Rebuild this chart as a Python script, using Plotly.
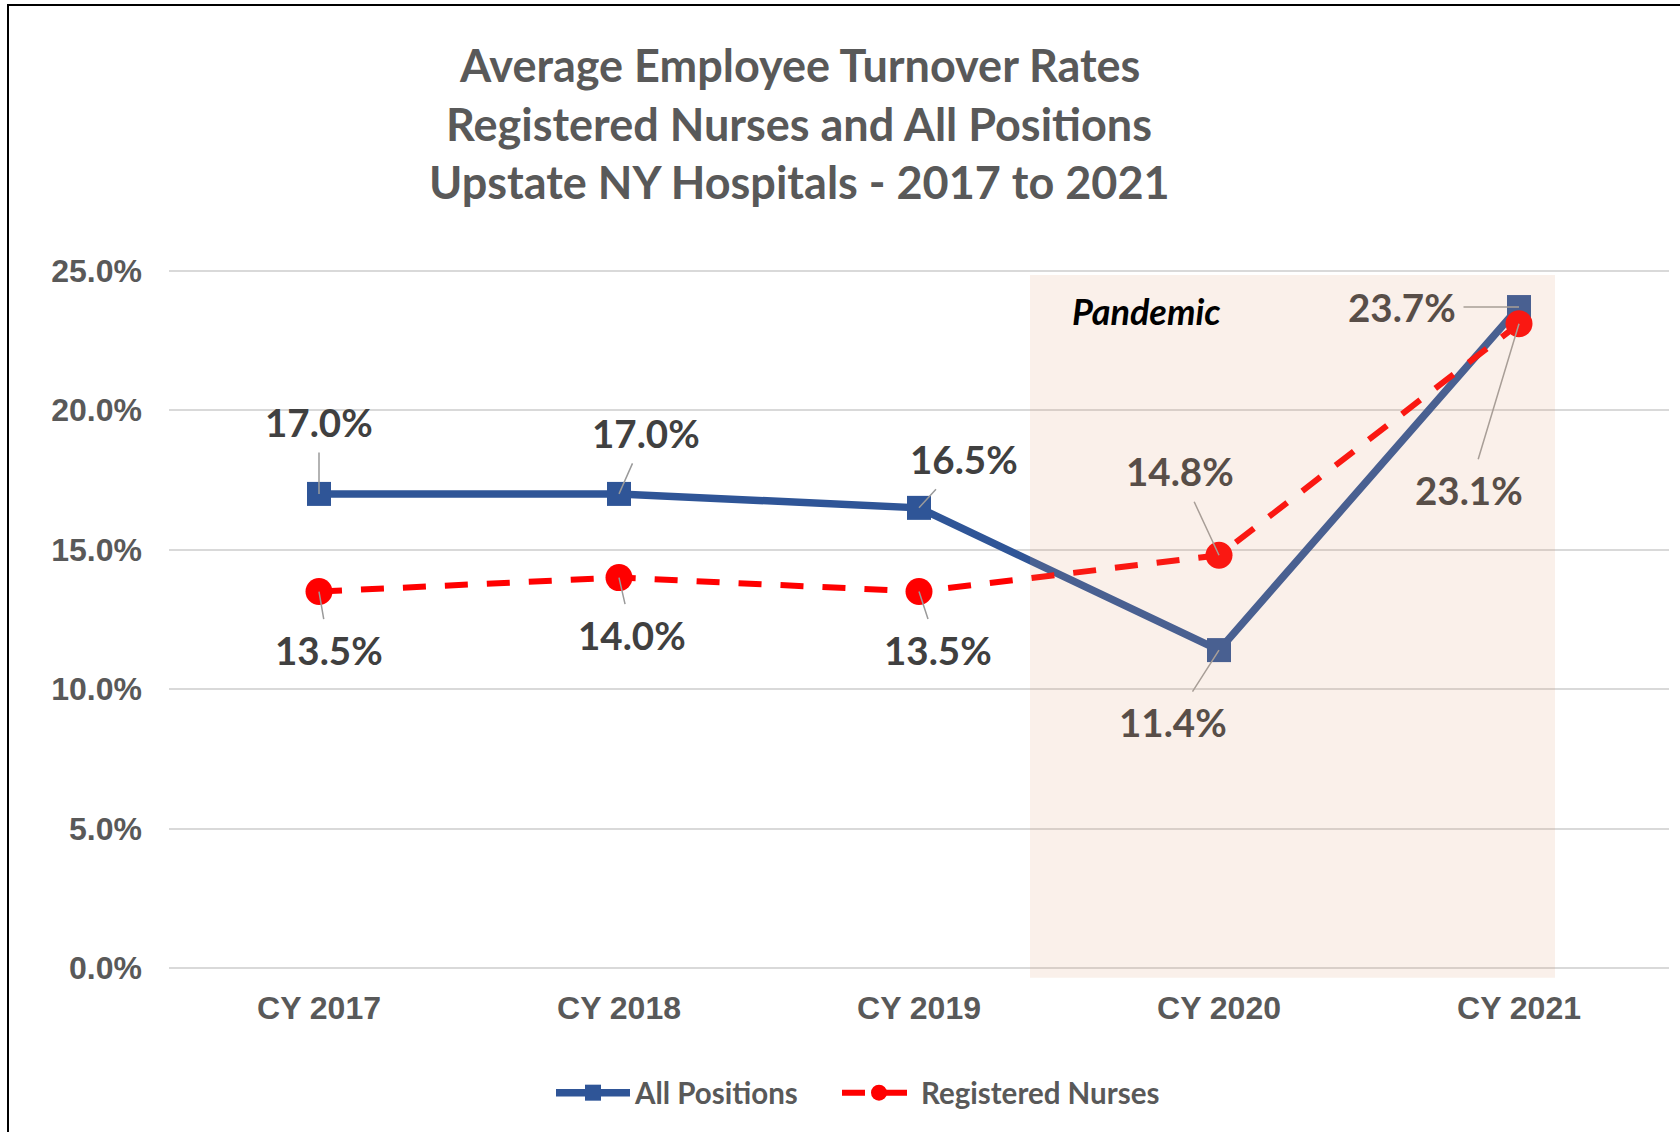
import plotly.graph_objects as go

# ---------------- data ----------------
categories = ["CY 2017", "CY 2018", "CY 2019", "CY 2020", "CY 2021"]
all_positions = [17.0, 17.0, 16.5, 11.4, 23.7]
registered_nurses = [13.5, 14.0, 13.5, 14.8, 23.1]
y_tick_values = [0, 5, 10, 15, 20, 25]
y_tick_labels = ["0.0%", "5.0%", "10.0%", "15.0%", "20.0%", "25.0%"]
title_lines = ["Average Employee Turnover Rates",
               "Registered Nurses and All Positions",
               "Upstate NY Hospitals - 2017 to 2021"]
pandemic_label = "Pandemic"
pandemic_start_idx = 2.37   # shaded band in category-index units
pandemic_end_idx = 4.12

# label offsets (pixels, label centre relative to point)
ap_offsets = [(0, -72), (27, -61), (45, -49), (-46, 72), (-117, 0)]
rn_offsets = [(10, 58), (13, 57), (19, 58), (-39, -84), (-50, 166)]

W, H = 1680, 1132
ML, MR, MT, MB = 169, 11, 268, 150
PW, PH = W - ML - MR, H - MT - MB
Y0, Y1 = -0.5, 25.1


def px_x(px):
    return (px - ML) / PW


def px_y(py):
    return (H - MB - py) / PH


BLUE = "#2F5597"
RED = "#FF0000"
GRAY = "#595959"
LABEL_DARK = "#404040"
LABEL_TINT = "#584E48"
LEAD = "#9A9A9A"
LEAD_TINT = "#A89E97"
LABEL_FONT = "Lato"
AXIS_FONT = "Liberation Sans"

fig = go.Figure()
fig.add_trace(go.Scatter(
    x=categories, y=all_positions, name="All Positions", mode="lines+markers",
    line=dict(color=BLUE, width=7.5),
    marker=dict(symbol="square", size=24, color=BLUE),
    legend="legend",
))
fig.add_trace(go.Scatter(
    x=categories, y=registered_nurses, name="Registered Nurses", mode="lines+markers",
    line=dict(color=RED, width=6, dash="23px,19px"),
    marker=dict(symbol="circle", size=27, color=RED),
    legend="legend2",
))

annotations = []
for series, offsets in ((all_positions, ap_offsets), (registered_nurses, rn_offsets)):
    for i, (cat, v) in enumerate(zip(categories, series)):
        tinted = i >= 3
        annotations.append(dict(
            x=cat, y=v, xref="x", yref="y",
            text=f"{v:.1f}%", showarrow=True, arrowhead=0, arrowwidth=1.5,
            arrowcolor=LEAD_TINT if tinted else LEAD, standoff=0,
            ax=offsets[i][0], ay=offsets[i][1], borderpad=7,
            font=dict(family=LABEL_FONT, size=38.5, weight=700,
                      color=LABEL_TINT if tinted else LABEL_DARK),
        ))

title_y = [65, 124, 182]
for line, py in zip(title_lines, title_y):
    annotations.append(dict(
        x=px_x(799), y=px_y(py), xref="paper", yref="paper", showarrow=False,
        text=line, xanchor="center", yanchor="middle",
        font=dict(family=LABEL_FONT, size=45, weight=700, color=GRAY),
    ))

annotations.append(dict(
    x=2.757, y=23.57, xref="x", yref="y", showarrow=False, text=pandemic_label,
    xanchor="center", yanchor="middle",
    font=dict(family=LABEL_FONT, size=36, weight=700, style="italic", color="#000000"),
))

shapes = [
    dict(type="rect", xref="x", yref="y", x0=pandemic_start_idx, x1=pandemic_end_idx,
         y0=-0.35, y1=24.85, layer="above", line=dict(width=0),
         fillcolor="rgba(222,157,118,0.154)"),
    dict(type="rect", xref="paper", yref="paper", x0=px_x(8), x1=px_x(W + 10),
         y0=px_y(H + 10), y1=px_y(5), line=dict(color="#000000", width=2),
         fillcolor="rgba(0,0,0,0)", layer="below"),
]

legend_common = dict(orientation="h", xanchor="left", y=px_y(1093), yanchor="middle",
                     font=dict(family=LABEL_FONT, size=29.5, weight=700, color=GRAY),
                     itemwidth=74, bgcolor="rgba(0,0,0,0)")

fig.update_layout(
    width=W, height=H,
    margin=dict(l=ML, r=MR, t=MT, b=MB, pad=0),
    paper_bgcolor="white", plot_bgcolor="white",
    showlegend=True,
    legend=dict(x=px_x(551), **legend_common),
    legend2=dict(x=px_x(837), **legend_common),
    annotations=annotations,
    shapes=shapes,
)
fig.update_xaxes(
    type="category", range=[-0.5, 4.5], showgrid=False, zeroline=False, showline=False,
    ticks="", ticklabelstandoff=4,
    tickfont=dict(family=AXIS_FONT, size=32, weight=700, color=GRAY),
)
fig.update_yaxes(
    range=[Y0, Y1], tickvals=y_tick_values, ticktext=y_tick_labels,
    showgrid=True, gridcolor="#D9D9D9", gridwidth=2, zeroline=False, showline=False,
    ticks="", ticklabelstandoff=26,
    tickfont=dict(family=AXIS_FONT, size=32, weight=700, color=GRAY),
)

fig.write_html("out.html")
